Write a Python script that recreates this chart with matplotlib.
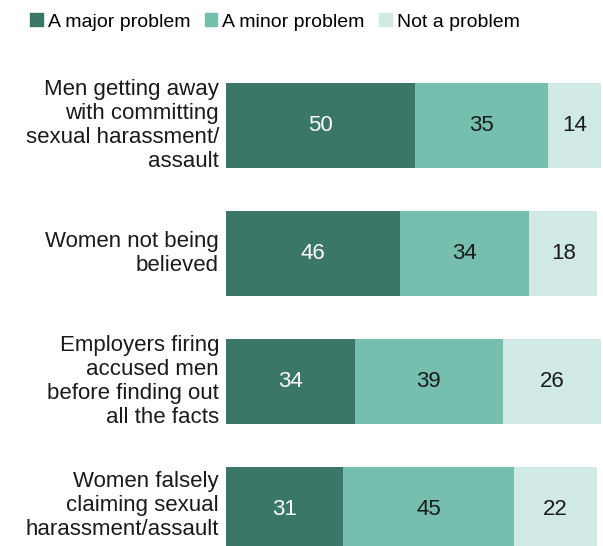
import numpy as np
import matplotlib.pyplot as plt
from matplotlib.patches import Patch

plt.rcParams['font.family'] = ['Liberation Sans', 'DejaVu Sans']

''' data '''
categories = ['Men getting away\nwith committing\nsexual harassment/\nassault',
              'Women not being\nbelieved',
              'Employers firing\naccused men\nbefore finding out\nall the facts',
              'Women falsely\nclaiming sexual\nharassment/assault']
major = [50, 46, 34, 31]
minor = [35, 34, 39, 45]
not_problem = [14, 18, 26, 22]
series_names = ['A major problem', 'A minor problem', 'Not a problem']
colors = ['#3a7767', '#76bfae', '#d0e9e4']
text_colors = ['white', '#1a1a1a', '#1a1a1a']

fig = plt.figure(figsize=(6.03, 5.46), dpi=100)
ax = fig.add_axes([226 / 603, 0, 377 / 603, 486 / 546])

y = np.arange(len(categories))
left = np.zeros(len(categories))
for vals, c, tc, name in zip([major, minor, not_problem], colors, text_colors, series_names):
    vals = np.array(vals)
    ax.barh(y, vals, left=left, height=0.664, color=c, label=name)
    for yi, l, v in zip(y, left, vals):
        ax.text(l + v / 2, yi, str(v), ha='center', va='center', color=tc, fontsize=16)
    left = left + vals

ax.set_xlim(0, 99.5)
ax.set_ylim(3.285, -0.512)
ax.set_yticks([])
ax.set_xticks([])
for s in ax.spines.values():
    s.set_visible(False)

# category labels, last one nudged up a bit so it stays inside the figure
for i, cat in enumerate(categories):
    dy = 3 if i == len(categories) - 1 else 0
    ax.annotate(cat, xy=(0, y[i]), xycoords=('axes fraction', 'data'),
                xytext=(-5, dy), textcoords='offset points', ha='right', va='center',
                fontsize=16, linespacing=1.18, color='#1a1a1a')

handles = [Patch(color=c, label=n) for c, n in zip(colors, series_names)]
fig.legend(handles=handles, loc='upper left', bbox_to_anchor=(0.037, 0.99), ncol=3,
           frameon=False, fontsize=14, handlelength=0.65, handleheight=0.65,
           handletextpad=0.25, columnspacing=0.75, borderaxespad=0)

plt.savefig('out.png', dpi=100)
